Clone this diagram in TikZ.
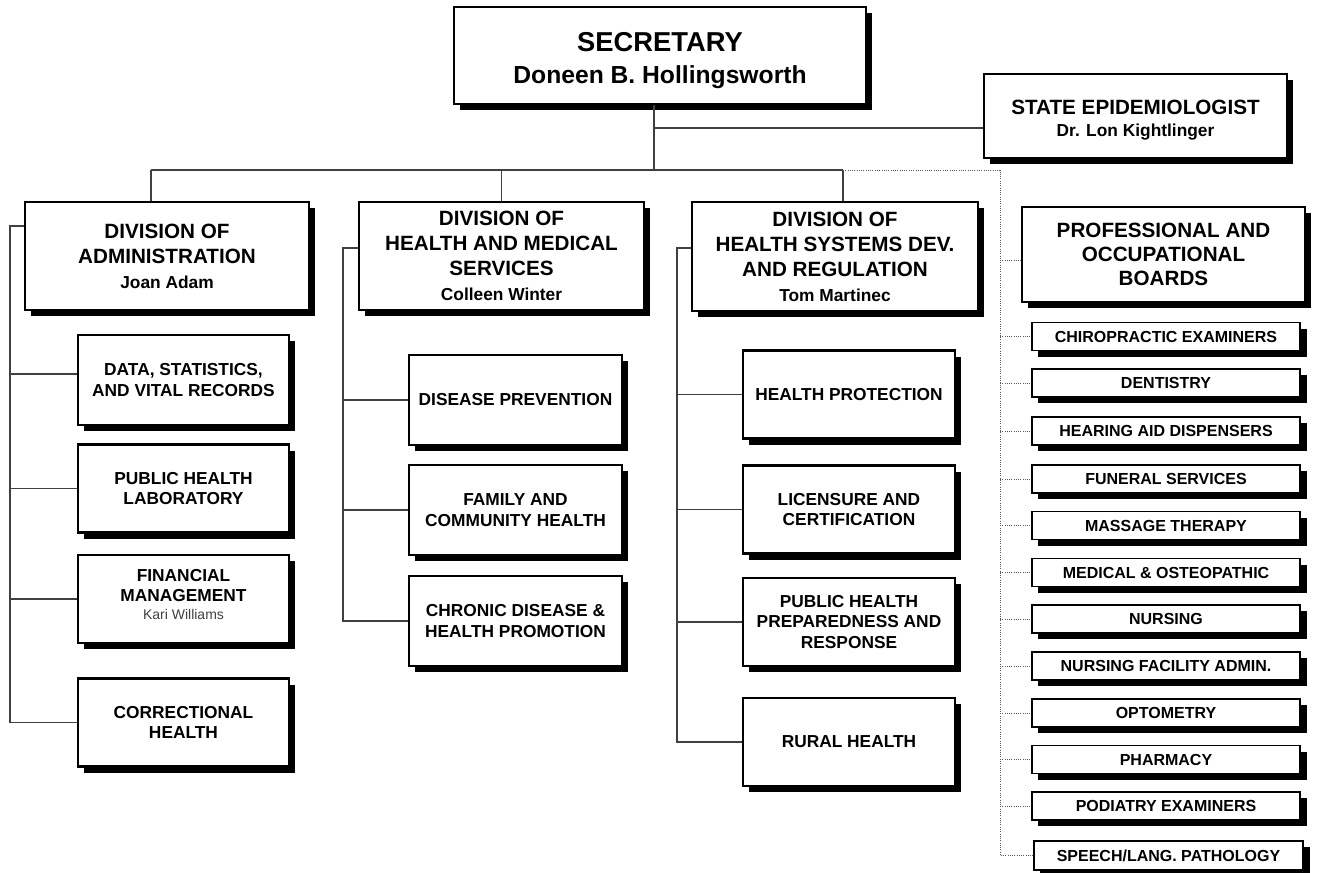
\documentclass[tikz,border=0pt]{standalone}
\usepackage{fontspec}
\setmainfont{Liberation Sans}
\usetikzlibrary{shadows}
\begin{document}
\begin{tikzpicture}[x=0.75pt,y=-0.75pt,
  box/.style={draw=black, line width=1.6pt, fill=white, inner sep=0pt, align=center,
    drop shadow={shadow xshift=4.8pt, shadow yshift=-4.8pt, fill=black, opacity=1}},
  bigtitle/.style={box, font=\bfseries\fontsize{15.5}{18.75}\selectfont},
  subbox/.style={box, minimum width=158.25pt, minimum height=66pt, font=\bfseries\fontsize{13}{15.5}\selectfont},
  subboxb/.style={subbox, minimum width=159.75pt, minimum height=67.5pt},
  boardbox/.style={box, line width=1.3pt, minimum width=201pt, minimum height=21pt,
    font=\bfseries\fontsize{12}{13}\selectfont,
    drop shadow={shadow xshift=5.2pt, shadow yshift=-4.6pt, fill=black, opacity=1}},
  conn/.style={draw=black!75, line width=0.8pt},
  dotc/.style={draw=black!65, line width=0.7pt, densely dotted}]
\useasboundingbox (0,0) rectangle (1321,872);

% top level
\node[box, minimum width=309pt, minimum height=72.75pt,
  label={[yshift=-4.1pt, align=center, font=\bfseries\fontsize{20.5}{24}\selectfont]center:SECRETARY\\{\fontsize{18.5}{24}\selectfont Doneen B. Hollingsworth}}] (sec) at (660,55.5) {};
\node[box, minimum width=227.25pt, minimum height=63pt,
  label={[yshift=-3pt, align=center, font=\bfseries\fontsize{15.5}{17}\selectfont]center:STATE EPIDEMIOLOGIST\\{\fontsize{13}{17}\selectfont Dr. Lon Kightlinger}}] (epi) at (1135.5,116) {};

% divisions
\node[bigtitle, minimum width=213pt, minimum height=81pt] (div1) at (167,256)
  {DIVISION OF\\ADMINISTRATION\\{\fontsize{13}{18}\selectfont Joan Adam}};
\node[bigtitle, minimum width=213.75pt, minimum height=81pt] (div2) at (501.5,256)
  {DIVISION OF\\HEALTH AND MEDICAL\\SERVICES\\{\fontsize{13}{18}\selectfont Colleen Winter}};
\node[bigtitle, minimum width=214.5pt, minimum height=81.75pt] (div3) at (835,256.5)
  {DIVISION OF\\HEALTH SYSTEMS DEV.\\AND REGULATION\\{\fontsize{13}{18}\selectfont Tom Martinec}};
\node[bigtitle, minimum width=212.25pt, minimum height=71.25pt, font=\bfseries\fontsize{15.5}{18}\selectfont] (pob) at (1163.5,254.5)
  {PROFESSIONAL AND\\OCCUPATIONAL\\BOARDS};

% administration units
\node[subbox, minimum height=67.5pt] (data) at (183.5,380) {DATA, STATISTICS,\\AND VITAL RECORDS};
\node[subbox] (lab) at (183.5,488.5) {PUBLIC HEALTH\\LABORATORY};
\node[subbox,
  label={[yshift=3.5pt, align=center, font=\bfseries\fontsize{13}{15.5}\selectfont]center:FINANCIAL\\MANAGEMENT\\[-2.5pt]{\mdseries\color{black!75}\fontsize{10.5}{13}\selectfont Kari Williams}}] (fin) at (183.5,599) {};
\node[subbox] (corr) at (183.5,722.5) {CORRECTIONAL\\HEALTH};

% health and medical services units
\node[subboxb] (prev) at (515.5,400) {DISEASE PREVENTION};
\node[subboxb] (fam) at (515.5,510) {FAMILY AND\\COMMUNITY HEALTH};
\node[subboxb] (chron) at (515.5,621) {CHRONIC DISEASE \&\\HEALTH PROMOTION};

% health systems units
\node[subbox, minimum width=159pt] (prot) at (849,394.5) {HEALTH PROTECTION};
\node[subbox, minimum width=159pt] (lic) at (849,509.5) {LICENSURE AND\\CERTIFICATION};
\node[subbox, minimum width=159pt] (prep) at (849,622) {PUBLIC HEALTH\\PREPAREDNESS AND\\RESPONSE};
\node[subbox, minimum width=159pt] (rural) at (849,742) {RURAL HEALTH};

% boards
\node[boardbox] (b1) at (1166,336.5) {CHIROPRACTIC EXAMINERS};
\node[boardbox] (b2) at (1166,383) {DENTISTRY};
\node[boardbox] (b3) at (1166,431) {HEARING AID DISPENSERS};
\node[boardbox] (b4) at (1166,479) {FUNERAL SERVICES};
\node[boardbox] (b5) at (1166,525.5) {MASSAGE THERAPY};
\node[boardbox] (b6) at (1166,572.5) {MEDICAL \& OSTEOPATHIC};
\node[boardbox] (b7) at (1166,619) {NURSING};
\node[boardbox] (b8) at (1166,666) {NURSING FACILITY ADMIN.};
\node[boardbox] (b9) at (1166,713) {OPTOMETRY};
\node[boardbox] (b10) at (1166,759.5) {PHARMACY};
\node[boardbox] (b11) at (1166,806) {PODIATRY EXAMINERS};
\node[boardbox, minimum width=201.75pt, minimum height=21.75pt] (b12) at (1168.5,855.5) {SPEECH/LANG. PATHOLOGY};

% junction coordinates
\coordinate (t0) at (654,170);
\coordinate (t1) at (654,128);
\coordinate (bl) at (151,170);
\coordinate (br) at (843,170);
\coordinate (dt) at (1000,170);
\coordinate (l1) at (10,226);
\coordinate (l2) at (343,248);
\coordinate (l3) at (677,248);

% top connectors
\draw[conn] (sec.south -| t0) -- (t0);
\draw[conn] (t1) -- (t1 -| epi.west);
\draw[conn] (bl) -- (br);
\draw[conn] (bl) -- (bl |- div1.north);
\draw[conn] (div2.north |- bl) -- (div2.north);
\draw[conn] (br) -- (br |- div3.north);

% administration tree
\draw[conn] (l1 -| div1.west) -- (l1) -- (l1 |- corr.west) -- (corr.west);
\draw[conn] (l1 |- 0,374) -- (data.west |- 0,374);
\draw[conn] (l1 |- lab.west) -- (lab.west);
\draw[conn] (l1 |- fin.west) -- (fin.west);

% health and medical services tree
\draw[conn] (l2 -| div2.west) -- (l2) -- (l2 |- chron.west) -- (chron.west);
\draw[conn] (l2 |- prev.west) -- (prev.west);
\draw[conn] (l2 |- fam.west) -- (fam.west);

% health systems tree
\draw[conn] (l3 -| div3.west) -- (l3) -- (l3 |- rural.west) -- (rural.west);
\draw[conn] (l3 |- prot.west) -- (prot.west);
\draw[conn] (l3 |- lic.west) -- (lic.west);
\draw[conn] (l3 |- prep.west) -- (prep.west);

% boards tree (dotted)
\draw[dotc] (br) -- (dt) -- (dt |- b12.west) -- (b12.west);
\draw[dotc] (dt |- 0,260) -- (pob.west |- 0,260);
\foreach \b in {b1,b2,b3,b4,b5,b6,b7,b8,b9,b10,b11}
  \draw[dotc] (dt |- \b.west) -- (\b.west);
\end{tikzpicture}
\end{document}
